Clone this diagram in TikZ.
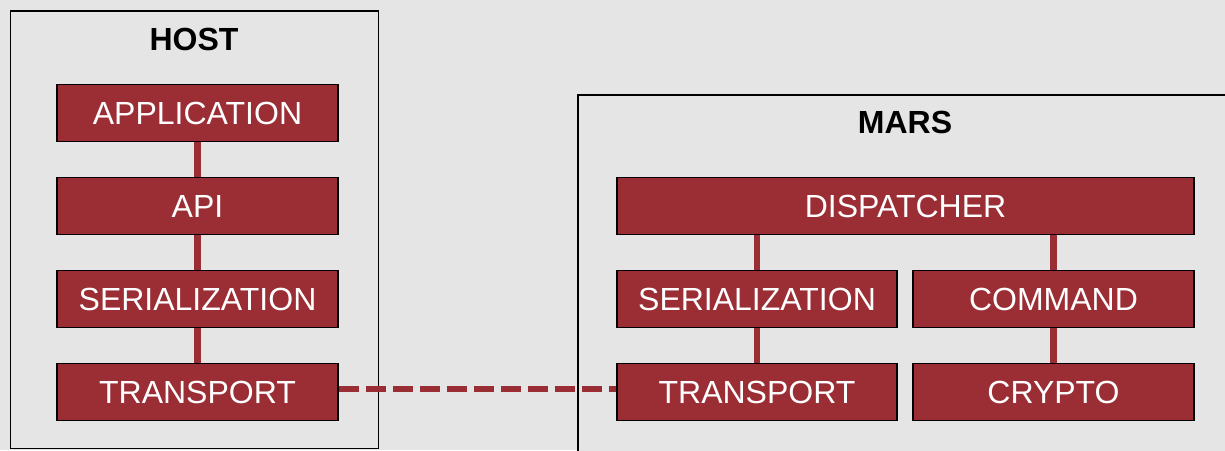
\documentclass[tikz,border=0pt]{standalone}
\usepackage{fontspec}
\setmainfont{Liberation Sans}
\definecolor{bg}{RGB}{229,229,229}
\definecolor{layer}{RGB}{155,45,53}
\begin{document}
\begin{tikzpicture}[x=1pt,y=-1pt,
  layerbox/.style={draw=black, line width=1.4pt, fill=layer, text=white,
    minimum height=57pt, inner sep=0pt, text height=22.9pt, text depth=0pt,
    font=\fontsize{32}{38}\selectfont},
  tier/.style={draw=black, line width=1.4pt, fill=bg, inner sep=0pt},
  tiertitle/.style={inner sep=0pt, text height=22.9pt, text depth=0pt,
    font=\fontsize{32}{38}\selectfont\bfseries},
  link/.style={draw=layer, line width=6.5pt},
  wire/.style={link, dash pattern=on 20pt off 7pt}]
\fill[bg] (0,0) rectangle (1225,450);
\useasboundingbox (0,0) rectangle (1225,450);

% containers, cut by the page edge
\begin{scope}
  \clip (0,0) rectangle (1225,450);
  \node[tier, minimum width=368pt, minimum height=437.5pt] (host) at (194.5,229.75) {};
  \node[tier, minimum width=680pt, minimum height=380pt] (mars) at (918,285) {};
\end{scope}

\node[tiertitle] (hosttitle) at (194,39.5) {HOST};
\node[tiertitle] (marstitle) at (905,122.5) {MARS};

% host stack
\node[layerbox, minimum width=281pt] (app)  at (197.5,113)   {APPLICATION};
\node[layerbox, minimum width=281pt] (api)  at (197.5,206)   {API};
\node[layerbox, minimum width=281pt] (hser) at (197.5,299)   {SERIALIZATION};
\node[layerbox, minimum width=281pt] (htr)  at (197.5,392)   {TRANSPORT};

% mars stack
\node[layerbox, minimum width=577pt] (disp) at (905.5,206)   {DISPATCHER};
\node[layerbox, minimum width=280pt] (mser) at (757,299)     {SERIALIZATION};
\node[layerbox, minimum width=281pt] (cmd)  at (1053.5,299)  {COMMAND};
\node[layerbox, minimum width=280pt] (mtr)  at (757,392)     {TRANSPORT};
\node[layerbox, minimum width=281pt] (cry)  at (1053.5,392)  {CRYPTO};

% links between layers
\draw[link] (app.south) -- (api.north);
\draw[link] (api.south) -- (hser.north);
\draw[link] (hser.south) -- (htr.north);
\draw[link] (disp.south -| mser.north) -- (mser.north);
\draw[link] (disp.south -| cmd.north) -- (cmd.north);
\draw[link] (mser.south) -- (mtr.north);
\draw[link] (cmd.south) -- (cry.north);

% channel between the two transports
\draw[wire] ([yshift=3pt]htr.east) -- ([yshift=3pt]mtr.west);
\end{tikzpicture}
\end{document}
